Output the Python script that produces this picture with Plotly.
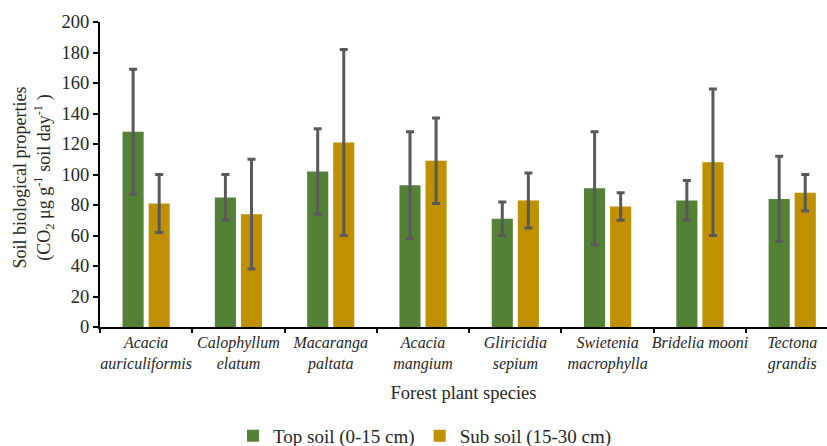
import plotly.graph_objects as go

species = [
    "Acacia<br>auriculiformis",
    "Calophyllum<br>elatum",
    "Macaranga<br>paltata",
    "Acacia<br>mangium",
    "Gliricidia<br>sepium",
    "Swietenia<br>macrophylla",
    "Bridelia mooni",
    "Tectona<br>grandis",
]
top_soil = [128, 85, 102, 93, 71, 91, 83, 84]
top_soil_err = [41, 15, 28, 35, 11, 37, 13, 28]
sub_soil = [81, 74, 121, 109, 83, 79, 108, 88]
sub_soil_err = [19, 36, 61, 28, 18, 9, 48, 12]
y_ticks = list(range(0, 201, 20))

serif = "Times New Roman, Liberation Serif, DejaVu Serif, serif"
text_color = "#262626"
err_style = dict(type="data", color="#595959", thickness=3, width=4)

fig = go.Figure()
fig.add_trace(go.Bar(
    x=species, y=top_soil, name="Top soil (0-15 cm)",
    marker=dict(color="#538135", line=dict(width=0)),
    error_y=dict(array=top_soil_err, **err_style),
))
fig.add_trace(go.Bar(
    x=species, y=sub_soil, name="Sub soil (15-30 cm)",
    marker=dict(color="#BF9000", line=dict(width=0)),
    error_y=dict(array=sub_soil_err, **err_style),
))

fig.update_layout(
    width=827, height=446,
    margin=dict(l=100, r=0, t=22, b=119, autoexpand=False),
    paper_bgcolor="white", plot_bgcolor="white",
    barmode="group", bargap=0.435, bargroupgap=0.19,
    font=dict(family=serif, color=text_color, size=16),
    showlegend=True,
    legend=dict(
        orientation="h", x=0.447, xanchor="center", y=-0.357, yanchor="middle",
        font=dict(family=serif, size=19, color=text_color),
        itemwidth=30, traceorder="normal",
    ),
)

fig.update_xaxes(
    type="category",
    range=[-0.5, 7.377],
    automargin=False,
    tickangle=0,
    showline=True, linecolor="black", linewidth=2,
    ticks="outside", tickson="boundaries", ticklen=4, tickwidth=2, tickcolor="black",
    tickfont=dict(family=serif, size=16, style="italic", color=text_color),
    showgrid=False,
    title=dict(text="Forest plant species", font=dict(family=serif, size=18.5, color=text_color), standoff=14),
)
fig.update_yaxes(
    range=[0, 200], tickvals=y_ticks,
    automargin=False,
    showline=True, linecolor="black", linewidth=2,
    ticks="outside", ticklen=5, tickwidth=2, tickcolor="black",
    tickfont=dict(family=serif, size=18.5, color=text_color),
    showgrid=False, zeroline=False,
)

fig.add_annotation(
    text="Soil biological properties<br>(CO<sub>2</sub> μg g<sup>-1</sup> soil day<sup>-1</sup> )",
    xref="paper", yref="paper", x=(33 - 100) / 727, y=0.49,
    xanchor="center", yanchor="middle", textangle=-90, showarrow=False,
    font=dict(family=serif, size=18, color=text_color),
)

fig.write_html("out.html")
